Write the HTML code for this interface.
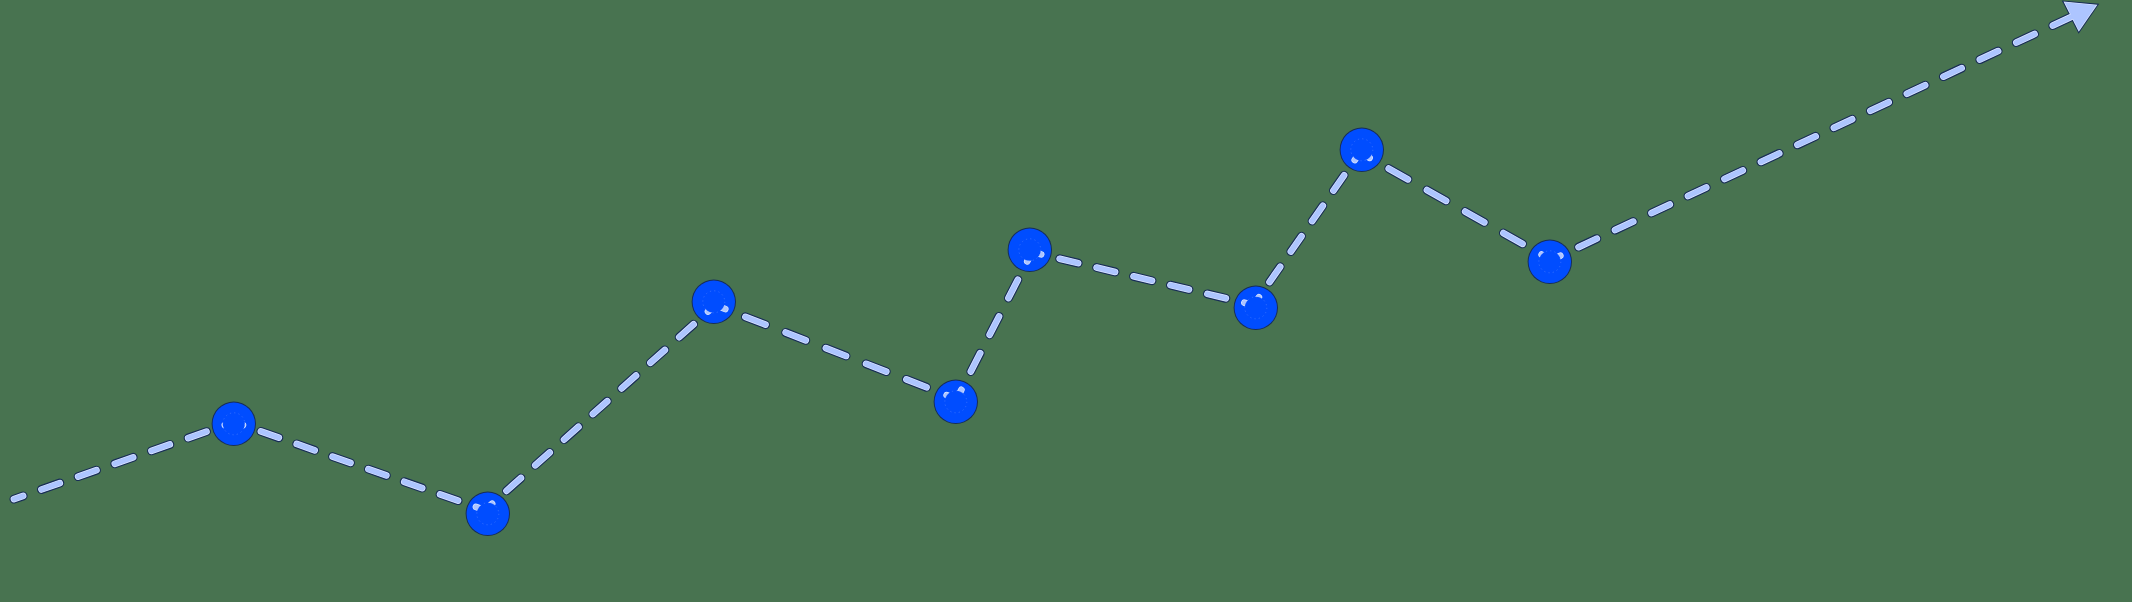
<!DOCTYPE html>
<html><head><meta charset="utf-8"><style>
html,body{margin:0;padding:0;width:2132px;height:602px;overflow:hidden;background:#487350;}
svg{display:block;position:absolute;left:0;top:0;}
</style></head><body>
<svg width="2132" height="602" viewBox="0 0 2132 602">
<g opacity="0.8" fill="none" stroke-linecap="round"><path d="M13.95,499.15 L234.00,421.95" stroke="#0c1c5a" stroke-width="8.9" stroke-dasharray="19.433 19.433" stroke-dashoffset="9.717" />
<path d="M234.00,421.95 L484.90,510.10" stroke="#0c1c5a" stroke-width="8.9" stroke-dasharray="18.995 18.995" stroke-dashoffset="9.498" />
<path d="M484.90,510.10 L715.20,305.10" stroke="#0c1c5a" stroke-width="8.9" stroke-dasharray="19.270 19.270" stroke-dashoffset="9.635" />
<path d="M715.20,305.10 L956.70,399.00" stroke="#0c1c5a" stroke-width="8.9" stroke-dasharray="21.593 21.593" stroke-dashoffset="10.796" />
<path d="M956.70,399.00 L1031.97,252.14" stroke="#0c1c5a" stroke-width="8.9" stroke-dasharray="20.628 20.628" stroke-dashoffset="10.314" />
<path d="M1031.97,252.14 L1253.55,304.90" stroke="#0c1c5a" stroke-width="8.9" stroke-dasharray="18.981 18.981" stroke-dashoffset="9.491" />
<path d="M1253.55,304.90 L1360.06,152.44" stroke="#0c1c5a" stroke-width="8.9" stroke-dasharray="18.598 18.598" stroke-dashoffset="9.299" />
<path d="M1360.06,152.44 L1551.20,259.93" stroke="#0c1c5a" stroke-width="8.9" stroke-dasharray="21.929 21.929" stroke-dashoffset="10.965" />
<path d="M1551.20,259.93 L2071.04,16.99" stroke="#0c1c5a" stroke-width="8.9" stroke-dasharray="20.134 20.134" stroke-dashoffset="10.067" />
<path d="M2061.77,0.38 L2099.21,3.82 L2078.64,33.78 Z" fill="#0c1c5a" stroke="none"/>
<circle cx="233.8" cy="423.8" r="22.2" fill="#0c1c5a" stroke="none"/><circle cx="487.8" cy="513.8" r="22.2" fill="#0c1c5a" stroke="none"/><circle cx="713.8" cy="301.8" r="22.2" fill="#0c1c5a" stroke="none"/><circle cx="955.8" cy="401.8" r="22.2" fill="#0c1c5a" stroke="none"/><circle cx="1029.8" cy="249.8" r="22.2" fill="#0c1c5a" stroke="none"/><circle cx="1255.8" cy="307.8" r="22.2" fill="#0c1c5a" stroke="none"/><circle cx="1361.8" cy="149.8" r="22.2" fill="#0c1c5a" stroke="none"/><circle cx="1549.8" cy="261.8" r="22.2" fill="#0c1c5a" stroke="none"/></g>
<circle cx="233.8" cy="423.8" r="21.2" fill="#004dff"/>
<circle cx="487.8" cy="513.8" r="21.2" fill="#004dff"/>
<circle cx="713.8" cy="301.8" r="21.2" fill="#004dff"/>
<circle cx="955.8" cy="401.8" r="21.2" fill="#004dff"/>
<circle cx="1029.8" cy="249.8" r="21.2" fill="#004dff"/>
<circle cx="1255.8" cy="307.8" r="21.2" fill="#004dff"/>
<circle cx="1361.8" cy="149.8" r="21.2" fill="#004dff"/>
<circle cx="1549.8" cy="261.8" r="21.2" fill="#004dff"/>
<g fill="none" stroke-linecap="round">
<path d="M13.95,499.15 L234.00,421.95" stroke="#dce6ff" stroke-width="6.6" stroke-dasharray="19.433 19.433" stroke-dashoffset="9.717" />
<path d="M234.00,421.95 L484.90,510.10" stroke="#dce6ff" stroke-width="6.6" stroke-dasharray="18.995 18.995" stroke-dashoffset="9.498" />
<path d="M484.90,510.10 L715.20,305.10" stroke="#dce6ff" stroke-width="6.6" stroke-dasharray="19.270 19.270" stroke-dashoffset="9.635" />
<path d="M715.20,305.10 L956.70,399.00" stroke="#dce6ff" stroke-width="6.6" stroke-dasharray="21.593 21.593" stroke-dashoffset="10.796" />
<path d="M956.70,399.00 L1031.97,252.14" stroke="#dce6ff" stroke-width="6.6" stroke-dasharray="20.628 20.628" stroke-dashoffset="10.314" />
<path d="M1031.97,252.14 L1253.55,304.90" stroke="#dce6ff" stroke-width="6.6" stroke-dasharray="18.981 18.981" stroke-dashoffset="9.491" />
<path d="M1253.55,304.90 L1360.06,152.44" stroke="#dce6ff" stroke-width="6.6" stroke-dasharray="18.598 18.598" stroke-dashoffset="9.299" />
<path d="M1360.06,152.44 L1551.20,259.93" stroke="#dce6ff" stroke-width="6.6" stroke-dasharray="21.929 21.929" stroke-dashoffset="10.965" />
<path d="M1551.20,259.93 L2071.04,16.99" stroke="#dce6ff" stroke-width="6.6" stroke-dasharray="20.134 20.134" stroke-dashoffset="10.067" />
<path d="M2063.48,1.54 L2097.42,4.66 L2078.77,31.82 Z" fill="#dce6ff" stroke="none"/>
<path d="M13.95,499.15 L234.00,421.95" stroke="#adc5ff" stroke-width="5.199999999999999" stroke-dasharray="19.433 19.433" stroke-dashoffset="9.717" />
<path d="M234.00,421.95 L484.90,510.10" stroke="#adc5ff" stroke-width="5.199999999999999" stroke-dasharray="18.995 18.995" stroke-dashoffset="9.498" />
<path d="M484.90,510.10 L715.20,305.10" stroke="#adc5ff" stroke-width="5.199999999999999" stroke-dasharray="19.270 19.270" stroke-dashoffset="9.635" />
<path d="M715.20,305.10 L956.70,399.00" stroke="#adc5ff" stroke-width="5.199999999999999" stroke-dasharray="21.593 21.593" stroke-dashoffset="10.796" />
<path d="M956.70,399.00 L1031.97,252.14" stroke="#adc5ff" stroke-width="5.199999999999999" stroke-dasharray="20.628 20.628" stroke-dashoffset="10.314" />
<path d="M1031.97,252.14 L1253.55,304.90" stroke="#adc5ff" stroke-width="5.199999999999999" stroke-dasharray="18.981 18.981" stroke-dashoffset="9.491" />
<path d="M1253.55,304.90 L1360.06,152.44" stroke="#adc5ff" stroke-width="5.199999999999999" stroke-dasharray="18.598 18.598" stroke-dashoffset="9.299" />
<path d="M1360.06,152.44 L1551.20,259.93" stroke="#adc5ff" stroke-width="5.199999999999999" stroke-dasharray="21.929 21.929" stroke-dashoffset="10.965" />
<path d="M1551.20,259.93 L2071.04,16.99" stroke="#adc5ff" stroke-width="5.199999999999999" stroke-dasharray="20.134 20.134" stroke-dashoffset="10.067" />
<path d="M2064.67,2.35 L2096.16,5.25 L2078.86,30.45 Z" fill="#adc5ff" stroke="none"/>
</g>
<circle cx="233.8" cy="423.8" r="11.0" fill="#004dff"/><circle cx="233.8" cy="423.8" r="11.0" fill="none" stroke="#9ab8ff" stroke-width="0.9" stroke-opacity="0.3" stroke-dasharray="1.296 3.024"/>
<circle cx="487.8" cy="513.8" r="11.0" fill="#004dff"/><circle cx="487.8" cy="513.8" r="11.0" fill="none" stroke="#9ab8ff" stroke-width="0.9" stroke-opacity="0.3" stroke-dasharray="1.296 3.024"/>
<circle cx="713.8" cy="301.8" r="11.0" fill="#004dff"/><circle cx="713.8" cy="301.8" r="11.0" fill="none" stroke="#9ab8ff" stroke-width="0.9" stroke-opacity="0.3" stroke-dasharray="1.296 3.024"/>
<circle cx="955.8" cy="401.8" r="11.0" fill="#004dff"/><circle cx="955.8" cy="401.8" r="11.0" fill="none" stroke="#9ab8ff" stroke-width="0.9" stroke-opacity="0.3" stroke-dasharray="1.296 3.024"/>
<circle cx="1029.8" cy="249.8" r="11.0" fill="#004dff"/><circle cx="1029.8" cy="249.8" r="11.0" fill="none" stroke="#9ab8ff" stroke-width="0.9" stroke-opacity="0.3" stroke-dasharray="1.296 3.024"/>
<circle cx="1255.8" cy="307.8" r="11.0" fill="#004dff"/><circle cx="1255.8" cy="307.8" r="11.0" fill="none" stroke="#9ab8ff" stroke-width="0.9" stroke-opacity="0.3" stroke-dasharray="1.296 3.024"/>
<circle cx="1361.8" cy="149.8" r="11.0" fill="#004dff"/><circle cx="1361.8" cy="149.8" r="11.0" fill="none" stroke="#9ab8ff" stroke-width="0.9" stroke-opacity="0.3" stroke-dasharray="1.296 3.024"/>
<circle cx="1549.8" cy="261.8" r="11.0" fill="#004dff"/><circle cx="1549.8" cy="261.8" r="11.0" fill="none" stroke="#9ab8ff" stroke-width="0.9" stroke-opacity="0.3" stroke-dasharray="1.296 3.024"/>
</svg>
</body></html>
